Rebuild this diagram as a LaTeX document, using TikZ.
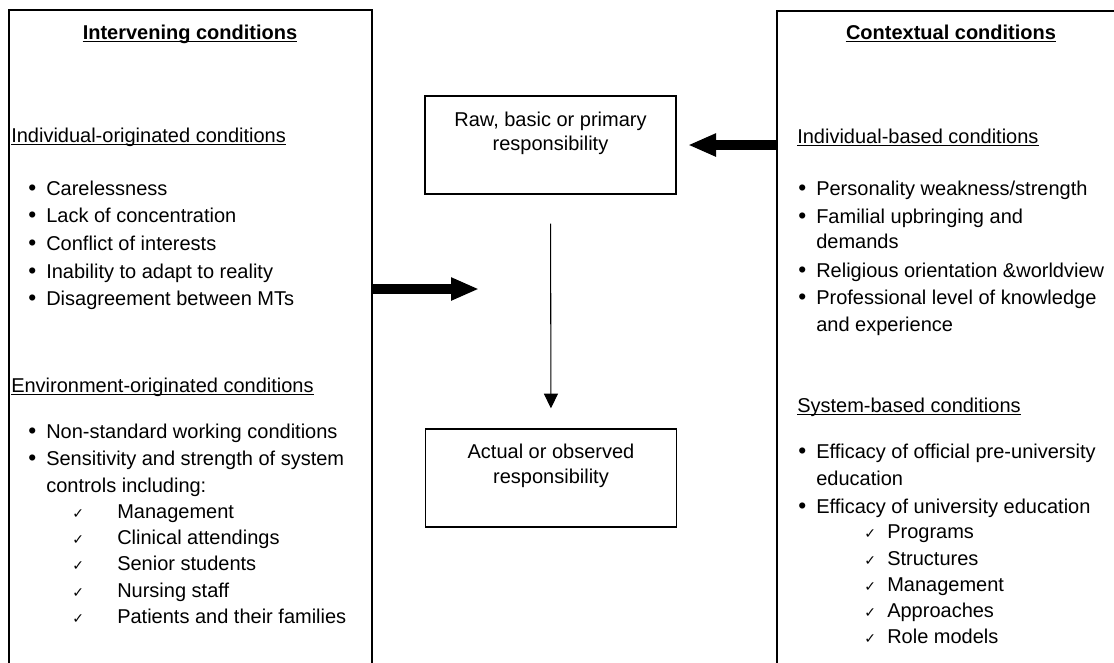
\documentclass[tikz,border=0pt]{standalone}
\usepackage{fontspec}
\setmainfont{Liberation Sans}
\newfontfamily\symfont{DejaVu Sans}
\usetikzlibrary{arrows.meta}
\begin{document}
\begin{tikzpicture}[x=0.75pt,y=-0.75pt,
  txt/.style={inner sep=0pt,anchor=base west,font=\fontsize{15}{18}\selectfont},
  ctxt/.style={inner sep=0pt,anchor=base,font=\fontsize{15}{18}\selectfont},
  head/.style={inner sep=0pt,anchor=base,font=\fontsize{15}{18}\selectfont\bfseries},
  bul/.style={inner sep=0pt,anchor=base west,font=\fontsize{17}{18}\selectfont},
  chk/.style={inner sep=0pt,anchor=base west,font=\symfont\fontsize{10.5}{12}\selectfont},
  ulline/.style={line width=0.9pt},
  outer/.style={line width=1.5pt},
  cbox/.style={draw,line width=1pt,minimum width=188.25pt,minimum height=73.5pt,inner sep=0pt},
  thick arrow/.style={line width=7.5pt,-{Triangle[length=21pt,width=16pt]}},
  thin arrow/.style={line width=0.8pt,-{Triangle[length=11pt,width=10.5pt]}}
]
\useasboundingbox (0,0) rectangle (1114,662);
\clip (0,0) rectangle (1114,662);

% outer (open) boxes
\node[inner sep=0pt,minimum width=271.5pt,minimum height=517.5pt,anchor=north west] (L) at (9,10) {};
\node[inner sep=0pt,minimum width=262.5pt,minimum height=517.5pt,anchor=north west] (R) at (777,11) {};
\draw[outer] (L.south west) |- (L.north east) -- (L.south east);
\draw[outer] (R.south west) |- (R.north east) -- (R.south east);

% centre boxes
\node[cbox] (raw) at (550.5,145) {};
\node[cbox] (act) at (551,478) {};
\node[ctxt] (raw1) at (550.5,126) {Raw, basic or primary};
\node[ctxt] (raw2) at (550.5,150) {responsibility};
\node[ctxt] (act1) at (551,458) {Actual or observed};
\node[ctxt] (act2) at (551,483) {responsibility};

% connectors
\coordinate (Ltip) at (479,289);
\coordinate (Rtip) at (688,145);
\draw[thick arrow] (L.east |- Ltip) -- (Ltip);
\draw[thick arrow] (R.west |- Rtip) -- (Rtip);
\draw[thin arrow,shorten <=21.75pt,shorten >=15pt] (raw.south) -- (act.north);

% left box text
\node[head] (lh) at (190,39) {Intervening conditions};
\draw[ulline] ([yshift=-1.6pt]lh.base west) -- ([yshift=-1.6pt]lh.base east);
\node[txt] (ls1) at (11,142) {Individual-originated conditions};
\draw[ulline] ([yshift=-1.6pt]ls1.base west) -- ([yshift=-1.6pt]ls1.base east);

\node[bul] (lb1) at (28,195) {•}; \node[txt] (li1) at (46,195) {Carelessness};
\node[bul] (lb2) at (28,222) {•}; \node[txt] (li2) at (46,222) {Lack of concentration};
\node[bul] (lb3) at (28,250) {•}; \node[txt] (li3) at (46,250) {Conflict of interests};
\node[bul] (lb4) at (28,278) {•}; \node[txt] (li4) at (46,278) {Inability to adapt to reality};
\node[bul] (lb5) at (28,305) {•}; \node[txt] (li5) at (46,305) {Disagreement between MTs};

\node[txt] (ls2) at (11,392) {Environment-originated conditions};
\draw[ulline] ([yshift=-1.6pt]ls2.base west) -- ([yshift=-1.6pt]ls2.base east);
\node[bul] (lb6) at (28,438) {•}; \node[txt] (li6) at (46,438) {Non-standard working conditions};
\node[bul] (lb7) at (28,465) {•}; \node[txt] (li7) at (46,465) {Sensitivity and strength of system};
\node[txt] (li8) at (46,492) {controls including:};
\node[chk] (lc1) at (72,518) {✓}; \node[txt] (lk1) at (117,518) {Management};
\node[chk] (lc2) at (72,544) {✓}; \node[txt] (lk2) at (117,544) {Clinical attendings};
\node[chk] (lc3) at (72,570) {✓}; \node[txt] (lk3) at (117,570) {Senior students};
\node[chk] (lc4) at (72,597) {✓}; \node[txt] (lk4) at (117,597) {Nursing staff};
\node[chk] (lc5) at (72,623) {✓}; \node[txt] (lk5) at (117,623) {Patients and their families};

% right box text
\node[head] (rh) at (951,39) {Contextual conditions};
\draw[ulline] ([yshift=-1.6pt]rh.base west) -- ([yshift=-1.6pt]rh.base east);
\node[txt] (rs1) at (797,143) {Individual-based conditions};
\draw[ulline] ([yshift=-1.6pt]rs1.base west) -- ([yshift=-1.6pt]rs1.base east);
\node[bul] (rb1) at (798,195) {•}; \node[txt] (ri1) at (816,195) {Personality weakness/strength};
\node[bul] (rb2) at (798,223) {•}; \node[txt] (ri2) at (816,223) {Familial upbringing and};
\node[txt] (ri3) at (816,248) {demands};
\node[bul] (rb3) at (798,277) {•}; \node[txt] (ri4) at (816,277) {Religious orientation \&worldview};
\node[bul] (rb4) at (798,304) {•}; \node[txt] (ri5) at (816,304) {Professional level of knowledge};
\node[txt] (ri6) at (816,331) {and experience};

\node[txt] (rs2) at (797,412) {System-based conditions};
\draw[ulline] ([yshift=-1.6pt]rs2.base west) -- ([yshift=-1.6pt]rs2.base east);
\node[bul] (rb5) at (798,458) {•}; \node[txt] (ri7) at (816,458) {Efficacy of official pre-university};
\node[txt] (ri8) at (816,485) {education};
\node[bul] (rb6) at (798,513) {•}; \node[txt] (ri9) at (816,513) {Efficacy of university education};
\node[chk] (rc1) at (864,538) {✓}; \node[txt] (rk1) at (887,538) {Programs};
\node[chk] (rc2) at (864,565) {✓}; \node[txt] (rk2) at (887,565) {Structures};
\node[chk] (rc3) at (864,591) {✓}; \node[txt] (rk3) at (887,591) {Management};
\node[chk] (rc4) at (864,617) {✓}; \node[txt] (rk4) at (887,617) {Approaches};
\node[chk] (rc5) at (864,643) {✓}; \node[txt] (rk5) at (887,643) {Role models};
\end{tikzpicture}
\end{document}
